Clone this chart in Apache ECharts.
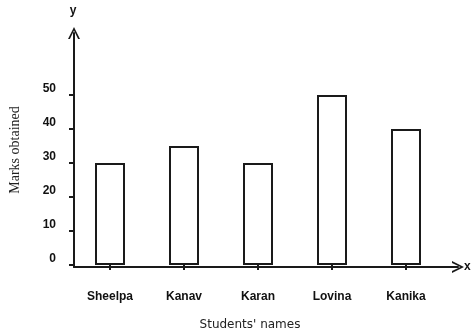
<!DOCTYPE html>
<html>
<head>
<meta charset="utf-8">
<script src="https://cdn.jsdelivr.net/npm/echarts@6/dist/echarts.min.js"></script>
<style>
  html, body { margin: 0; padding: 0; background: #fff; }
  #main { width: 474px; height: 336px; }
</style>
</head>
<body>
<div id="main"></div>
<script>
// data
const students = ['Sheelpa', 'Kanav', 'Karan', 'Lovina', 'Kanika'];
const marks = [30, 35, 30, 50, 40];
const yTicks = [0, 10, 20, 30, 40, 50];

// open arrow head, pointing up (the axis rotates it)
const chevron = 'path://M0,10 L5,0 L10,10 L8.4,10 L5,3 L1.6,10 Z';
const ink = '#1a1a1a';

const chart = echarts.init(document.getElementById('main'));

chart.setOption({
  animation: false,
  grid: [
    // bars
    { left: 73, right: 31, top: 95, bottom: 69 },
    // frame for the arrowed axes
    { left: 73, right: 16, top: 33, bottom: 69 }
  ],
  xAxis: [
    {
      gridIndex: 0,
      type: 'category',
      data: students,
      axisLine: { show: false },
      axisTick: { show: true, alignWithLabel: true, length: 5, lineStyle: { color: ink, width: 2 } },
      axisLabel: { margin: 26, color: '#111', fontWeight: 'bold', fontSize: 12, fontFamily: 'Liberation Sans' },
      name: "Students' names",
      nameLocation: 'middle',
      nameGap: 54,
      nameTextStyle: { color: '#222', fontSize: 12, fontFamily: 'DejaVu Sans', padding: [0, 16, 0, 0] }
    },
    {
      gridIndex: 1,
      type: 'value',
      min: 0,
      max: 1,
      axisLine: { show: true, onZero: false, symbol: ['none', chevron], symbolSize: [12, 12], lineStyle: { color: ink, width: 2 } },
      axisTick: { show: false },
      axisLabel: { show: false },
      splitLine: { show: false },
      name: 'x',
      nameGap: 6,
      nameTextStyle: { color: '#111', fontWeight: 'bold', fontSize: 12, fontFamily: 'Liberation Sans' }
    }
  ],
  yAxis: [
    {
      gridIndex: 0,
      type: 'value',
      min: yTicks[0],
      max: yTicks[yTicks.length - 1],
      interval: yTicks[1] - yTicks[0],
      axisLine: { show: false },
      axisTick: { show: true, length: 4, lineStyle: { color: ink, width: 2 } },
      axisLabel: { margin: 17, verticalAlign: 'bottom', color: '#111', fontWeight: 'bold', fontSize: 12, fontFamily: 'Liberation Sans' },
      splitLine: { show: false },
      name: 'y',
      nameGap: 78,
      nameTextStyle: { color: '#111', fontWeight: 'bold', fontSize: 12, fontFamily: 'Liberation Sans' }
    },
    {
      gridIndex: 1,
      type: 'value',
      min: 0,
      max: 1,
      axisLine: { show: true, onZero: false, symbol: ['none', chevron], symbolSize: [12, 12], lineStyle: { color: ink, width: 2 } },
      axisTick: { show: false },
      axisLabel: { show: false },
      splitLine: { show: false },
      name: 'Marks obtained',
      nameLocation: 'middle',
      nameGap: 52,
      nameTextStyle: { color: '#222', fontSize: 14, fontFamily: 'Liberation Serif' }
    }
  ],
  series: [
    {
      type: 'bar',
      xAxisIndex: 0,
      yAxisIndex: 0,
      data: marks,
      barWidth: 30,
      itemStyle: { color: '#fff', borderColor: ink, borderWidth: 2 }
    }
  ]
});
</script>
</body>
</html>
